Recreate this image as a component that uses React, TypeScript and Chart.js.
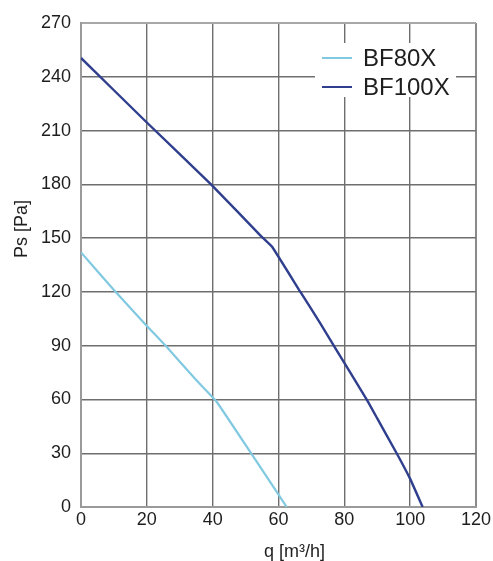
import React, { useEffect, useRef } from "react";
import { Chart, registerables } from "chart.js";

Chart.register(...registerables);

const seriesNames = ["BF80X", "BF100X"];
const seriesColors = ["#80c9e0", "#2f3f8e"];

const bf80Q = [0, 10, 20, 26, 35, 41.2, 51.4, 62.5];
const bf80Ps = [142, 121, 101, 89.4, 70.8, 58.7, 30.7, 0];

const bf100Q = [0, 20, 39.5, 54.4, 58, 66.6, 72.7, 77.3, 86.9, 90, 95.9, 100, 103.8];
const bf100Ps = [250.5, 214.5, 180, 151.7, 145.3, 120.1, 102.5, 88.5, 59.6, 49.4, 30, 15.7, 0];

const xTicks = [0, 20, 40, 60, 80, 100, 120];
const yTicks = [0, 30, 60, 90, 120, 150, 180, 210, 240, 270];

const xTitle = "q [m³/h]";
const yTitle = "Ps [Pa]";

const FONT = "'Liberation Sans', Arial, sans-serif";

const overlayPlugin = {
  id: "overlay",
  afterDatasetsDraw(chart: any) {
    const { ctx, chartArea } = chart;
    const { top, right, left, bottom } = chartArea;
    ctx.save();
    // legend box
    ctx.fillStyle = "#ffffff";
    ctx.fillRect(right - 161, top + 20, 141, 54);
    ctx.font = `24px ${FONT}`;
    ctx.textBaseline = "middle";
    ctx.textAlign = "left";
    chart.data.datasets.forEach((ds: any, i: number) => {
      const y = top + 35 + i * 29;
      ctx.strokeStyle = ds.borderColor;
      ctx.lineWidth = 2;
      ctx.beginPath();
      ctx.moveTo(right - 154, y);
      ctx.lineTo(right - 124, y);
      ctx.stroke();
      ctx.fillStyle = "#1e1e1e";
      ctx.fillText(ds.label, right - 113, y + 1);
    });
    // axis titles
    ctx.font = `18px ${FONT}`;
    ctx.fillStyle = "#1e1e1e";
    ctx.textAlign = "center";
    ctx.textBaseline = "alphabetic";
    ctx.fillText(xTitle, (left + right) / 2 + 16, bottom + 50);
    ctx.save();
    ctx.translate(27, (top + bottom) / 2 - 36);
    ctx.rotate(-Math.PI / 2);
    ctx.fillText(yTitle, 0, 0);
    ctx.restore();
    ctx.restore();
  },
};

export default function App() {
  const ref = useRef<HTMLCanvasElement>(null);
  useEffect(() => {
    document.body.style.margin = "0";
    const canvas = ref.current;
    if (!canvas) return;
    const isEdge = (ctx: any, lo: number, hi: number) =>
      ctx.tick && (ctx.tick.value === lo || ctx.tick.value === hi);
    const chart = new Chart(canvas, {
      type: "line",
      data: {
        datasets: [
          {
            label: seriesNames[0],
            data: bf80Q.map((q, i) => ({ x: q, y: bf80Ps[i] })),
            borderColor: seriesColors[0],
            borderWidth: 2.2,
            pointRadius: 0,
            tension: 0.1,
            fill: false,
          },
          {
            label: seriesNames[1],
            data: bf100Q.map((q, i) => ({ x: q, y: bf100Ps[i] })),
            borderColor: seriesColors[1],
            borderWidth: 2.4,
            pointRadius: 0,
            tension: 0.1,
            fill: false,
          },
        ],
      },
      options: {
        responsive: false,
        animation: false,
        layout: { padding: { left: 0, top: 23, right: 17, bottom: 0 } },
        plugins: { legend: { display: false }, tooltip: { enabled: false } },
        scales: {
          x: {
            type: "linear",
            min: 0,
            max: 120,
            afterBuildTicks: (s: any) => {
              s.ticks = xTicks.map((v) => ({ value: v }));
            },
            afterFit: (s: any) => {
              s.height = 54;
            },
            ticks: {
              font: { size: 18, family: FONT },
              color: "#1e1e1e",
              padding: 2,
              maxRotation: 0,
            },
            grid: {
              color: (c: any) => (isEdge(c, 0, 120) ? "#8a8a8a" : "#6e6e6e"),
              lineWidth: (c: any) => (isEdge(c, 0, 120) ? 2 : 1.4),
              drawTicks: false,
            },
            border: { color: "#9a9a9a", width: 2 },
          },
          y: {
            type: "linear",
            min: 0,
            max: 270,
            afterBuildTicks: (s: any) => {
              s.ticks = yTicks.map((v) => ({ value: v }));
            },
            afterFit: (s: any) => {
              s.width = 81;
            },
            ticks: {
              font: { size: 18, family: FONT },
              color: "#1e1e1e",
              padding: 10,
            },
            grid: {
              color: (c: any) => (isEdge(c, 0, 270) ? "#a8a8a8" : "#6e6e6e"),
              lineWidth: (c: any) => (isEdge(c, 0, 270) ? 2 : 1.4),
              drawTicks: false,
            },
            border: { color: "#9a9a9a", width: 2 },
          },
        },
      },
      plugins: [overlayPlugin],
    } as any);
    return () => chart.destroy();
  }, []);
  return <canvas ref={ref} width={493} height={561} style={{ display: "block" }} />;
}
